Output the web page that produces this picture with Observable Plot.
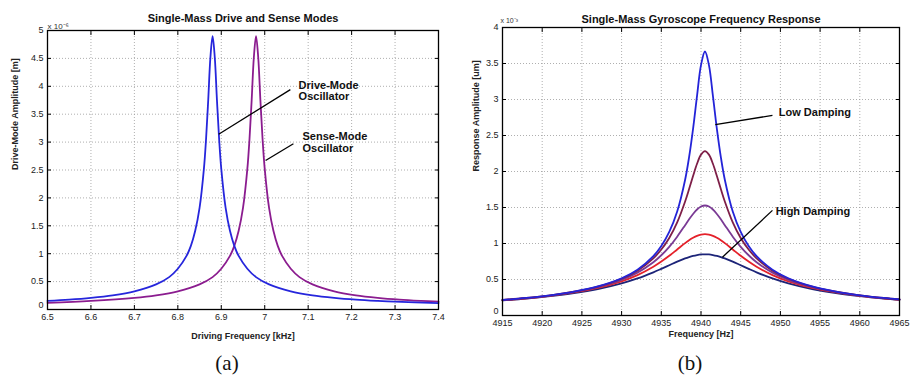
<!DOCTYPE html>
<html><head><meta charset="utf-8">
<script src="https://cdn.jsdelivr.net/npm/d3@7"></script>
<script src="https://cdn.jsdelivr.net/npm/@observablehq/plot@0.6"></script>
<style>
body{margin:0;background:#fff;}
#wrap{position:relative;width:910px;height:376px;overflow:hidden;background:#fff;}
.panel{position:absolute;top:0;}
.cap{position:absolute;top:352px;font-family:"Liberation Serif","DejaVu Serif",serif;font-size:21px;line-height:22px;width:60px;text-align:center;color:#111;}
</style></head><body>
<div id="wrap">
  <div id="a" class="panel" style="left:0"></div>
  <div id="b" class="panel" style="left:455px"></div>
  <div class="cap" style="left:197px">(a)</div>
  <div class="cap" style="left:660px">(b)</div>
</div>
<script>
// ---------- Panel (a) data ----------
const titleA = "Single-Mass Drive and Sense Modes";
const xLabelA = "Driving Frequency [kHz]";
const yLabelA = "Drive-Mode Amplitude [m]";
const yExpA = "x 10\u207B\u2076";
const xTicksA = [6.5, 6.6, 6.7, 6.8, 6.9, 7.0, 7.1, 7.2, 7.3, 7.4];
const yTicksA = [0, 0.5, 1, 1.5, 2, 2.5, 3, 3.5, 4, 4.5, 5];
const driveFreq = [6.5, 6.55, 6.6, 6.65, 6.7, 6.75, 6.78, 6.8, 6.82, 6.83, 6.84, 6.85, 6.86, 6.865, 6.87, 6.875, 6.88, 6.885, 6.89, 6.895, 6.9, 6.91, 6.92, 6.93, 6.94, 6.96, 6.98, 7.01, 7.06, 7.11, 7.16, 7.21, 7.26, 7.3, 7.4];
const driveAmp = [0.155, 0.178, 0.21, 0.255, 0.326, 0.45, 0.58, 0.73, 0.96, 1.14, 1.41, 1.82, 2.52, 3.06, 3.76, 4.52, 4.9, 4.52, 3.76, 3.06, 2.52, 1.82, 1.41, 1.14, 0.96, 0.73, 0.58, 0.45, 0.326, 0.255, 0.21, 0.178, 0.155, 0.14, 0.115];
const senseFreq = [6.5, 6.6, 6.7, 6.75, 6.8, 6.85, 6.88, 6.9, 6.92, 6.93, 6.94, 6.95, 6.96, 6.965, 6.97, 6.975, 6.98, 6.985, 6.99, 6.995, 7.0, 7.01, 7.02, 7.03, 7.04, 7.06, 7.08, 7.11, 7.16, 7.21, 7.26, 7.31, 7.36, 7.4];
const senseAmp = [0.12, 0.155, 0.21, 0.255, 0.326, 0.45, 0.58, 0.73, 0.96, 1.14, 1.41, 1.82, 2.52, 3.06, 3.76, 4.52, 4.9, 4.52, 3.76, 3.06, 2.52, 1.82, 1.41, 1.14, 0.96, 0.73, 0.58, 0.45, 0.326, 0.255, 0.21, 0.178, 0.155, 0.14];
const annotTextA = ["Drive-Mode\nOscillator", "Sense-Mode\nOscillator"];
const annotTextXA = [7.078, 7.087];
const annotTextYA = [3.92, 3.0];
const annotLineX1A = [7.059, 7.066];
const annotLineY1A = [3.94, 2.97];
const annotLineX2A = [6.894, 7.002];
const annotLineY2A = [3.14, 2.67];

// ---------- Panel (b) data ----------
const titleB = "Single-Mass Gyroscope Frequency Response";
const xLabelB = "Frequency [Hz]";
const yLabelB = "Response Amplitude [um]";
const yExpB = "x 10\u207B\u00B3";
const xTicksB = [4915, 4920, 4925, 4930, 4935, 4940, 4945, 4950, 4955, 4960, 4965];
const yTicksB = [0, 0.5, 1, 1.5, 2, 2.5, 3, 3.5, 4];
const gyroFreq = [4915, 4918, 4921, 4924, 4927, 4930, 4932, 4934, 4935, 4936, 4937, 4938, 4938.5, 4939, 4939.5, 4940, 4940.5, 4941, 4941.5, 4942, 4942.5, 4943, 4944, 4945, 4946, 4947, 4949, 4951, 4954, 4957, 4960, 4963, 4965];
const ampLowDamping = [0.215,0.244,0.281,0.332,0.405,0.518,0.637,0.824,0.965,1.160,1.444,1.886,2.2,2.593,3.051,3.478,3.667,3.478,3.051,2.593,2.2,1.886,1.444,1.160,0.965,0.824,0.637,0.518,0.405,0.332,0.281,0.244,0.224];
const ampDamping2 = [0.215,0.243,0.280,0.330,0.401,0.511,0.623,0.794,0.916,1.077,1.294,1.584,1.756,1.937,2.107,2.234,2.282,2.234,2.107,1.937,1.756,1.584,1.294,1.077,0.916,0.794,0.623,0.511,0.401,0.330,0.280,0.243,0.223];
const ampDamping3 = [0.214,0.241,0.277,0.326,0.394,0.496,0.596,0.740,0.837,0.954,1.095,1.255,1.336,1.410,1.472,1.513,1.528,1.513,1.472,1.410,1.336,1.255,1.095,0.954,0.837,0.740,0.596,0.496,0.394,0.326,0.277,0.241,0.222];
const ampDamping4 = [0.212,0.239,0.274,0.320,0.383,0.475,0.561,0.677,0.749,0.829,0.917,1.005,1.045,1.079,1.106,1.123,1.129,1.123,1.106,1.079,1.045,1.005,0.917,0.829,0.749,0.677,0.561,0.475,0.383,0.320,0.274,0.239,0.220];
const ampHighDamping = [0.209,0.235,0.268,0.310,0.367,0.446,0.515,0.600,0.648,0.698,0.748,0.793,0.812,0.828,0.840,0.848,0.850,0.848,0.840,0.828,0.812,0.793,0.748,0.698,0.648,0.600,0.515,0.446,0.367,0.310,0.268,0.235,0.217];
const seriesNamesB = ["High", "D4", "D3", "D2", "Low"];
const seriesColorsB = ["#1c2478", "#e4212a", "#7a3a94", "#7e1f48", "#2424d8"];
const annotTextB = ["Low Damping", "High Damping"];
const annotTextXB = [4949.8, 4949.4];
const annotTextYB = [2.82, 1.44];
const annotLineX1B = [4949.0, 4949.0];
const annotLineY1B = [2.78, 1.46];
const annotLineX2B = [4941.8, 4942.7];
const annotLineY2B = [2.65, 0.81];

const FONT = "'Liberation Sans', Arial, Helvetica, sans-serif";

function frameParts(xTicks, yTicks) {
  const yNonZero = yTicks.filter(v => v !== 0);
  return [
    Plot.gridX(xTicks, {stroke: "#9a9a9a", strokeOpacity: 1, strokeDasharray: "1,2", strokeWidth: 0.8}),
    Plot.gridY(yTicks, {stroke: "#9a9a9a", strokeOpacity: 1, strokeDasharray: "1,2", strokeWidth: 0.8}),
    Plot.axisX(xTicks, {anchor: "bottom", tickSize: -4, fill: "none", stroke: "black", label: null}),
    Plot.axisX(xTicks, {anchor: "top", tickSize: -4, fill: "none", stroke: "black", label: null}),
    Plot.axisY(yTicks, {anchor: "left", tickSize: -4, fill: "none", stroke: "black", label: null}),
    Plot.axisY(yTicks, {anchor: "right", tickSize: -4, fill: "none", stroke: "black", label: null}),
    Plot.axisX(xTicks, {anchor: "bottom", tickSize: 0, tickPadding: 4, fill: "#222", fontSize: 9, label: null, tickFormat: d => String(d)}),
    Plot.axisY(yNonZero, {anchor: "left", tickSize: 0, tickPadding: 4, fill: "#222", fontSize: 9, label: null, tickFormat: d => String(d)}),
    Plot.axisY([0], {anchor: "left", tickSize: 0, tickPadding: 4, dy: -4, fill: "#222", fontSize: 9, label: null, tickFormat: d => String(d)})
  ];
}

// ---------- Panel (a) ----------
const drive = driveFreq.map((f, i) => ({f, a: driveAmp[i]}));
const sense = senseFreq.map((f, i) => ({f, a: senseAmp[i]}));
const annA = annotTextA.map((t, i) => ({t, x: annotTextXA[i], y: annotTextYA[i], x1: annotLineX1A[i], y1: annotLineY1A[i], x2: annotLineX2A[i], y2: annotLineY2A[i]}));

const plotA = Plot.plot({
  width: 455, height: 345,
  marginLeft: 47, marginRight: 17, marginTop: 30, marginBottom: 36,
  style: {fontFamily: FONT, background: "white", overflow: "visible"},
  x: {domain: [6.5, 7.4]},
  y: {domain: [0, 5]},
  marks: [
    ...frameParts(xTicksA, yTicksA),
    Plot.line(sense, {x: "f", y: "a", stroke: "#8b1c8f", strokeWidth: 1.8, curve: "catmull-rom"}),
    Plot.line(drive, {x: "f", y: "a", stroke: "#2626dc", strokeWidth: 1.8, curve: "catmull-rom"}),
    Plot.link(annA, {x1: "x1", y1: "y1", x2: "x2", y2: "y2", stroke: "black", strokeWidth: 1.3}),
    Plot.text(annA, {x: "x", y: "y", text: "t", textAnchor: "start", lineAnchor: "middle", fontWeight: "bold", fontSize: 11, lineHeight: 1.05, fill: "#111"}),
    Plot.frame({stroke: "black", strokeWidth: 1.3}),
    Plot.text([titleA], {frameAnchor: "top", dy: -16, fontWeight: "bold", fontSize: 11, fill: "#111"}),
    Plot.text([yExpA], {frameAnchor: "top-left", textAnchor: "start", dy: -7, fontSize: 8, fill: "#333"}),
    Plot.text([xLabelA], {frameAnchor: "bottom", dy: 29, fontWeight: "bold", fontSize: 9, fill: "#222"}),
    Plot.text([yLabelA], {frameAnchor: "left", dx: -32, rotate: -90, fontWeight: "bold", fontSize: 9, fill: "#222"})
  ]
});
document.getElementById("a").append(plotA);

// ---------- Panel (b) ----------
const seriesB = [ampHighDamping, ampDamping4, ampDamping3, ampDamping2, ampLowDamping];
const gyro = [];
seriesB.forEach((arr, k) => arr.forEach((a, i) => gyro.push({f: gyroFreq[i], a, s: seriesNamesB[k]})));
const annB = annotTextB.map((t, i) => ({t, x: annotTextXB[i], y: annotTextYB[i], x1: annotLineX1B[i], y1: annotLineY1B[i], x2: annotLineX2B[i], y2: annotLineY2B[i]}));

const plotB = Plot.plot({
  width: 455, height: 350,
  marginLeft: 47, marginRight: 11, marginTop: 27, marginBottom: 35,
  style: {fontFamily: FONT, background: "white", overflow: "visible"},
  x: {domain: [4915, 4965]},
  y: {domain: [0, 4]},
  color: {domain: seriesNamesB, range: seriesColorsB},
  marks: [
    ...frameParts(xTicksB, yTicksB),
    Plot.line(gyro, {x: "f", y: "a", z: "s", stroke: "s", strokeWidth: 1.8, curve: "catmull-rom"}),
    Plot.link(annB, {x1: "x1", y1: "y1", x2: "x2", y2: "y2", stroke: "black", strokeWidth: 1.3}),
    Plot.text(annB, {x: "x", y: "y", text: "t", textAnchor: "start", lineAnchor: "middle", fontWeight: "bold", fontSize: 11, fill: "#111"}),
    Plot.frame({stroke: "black", strokeWidth: 1.3}),
    Plot.text([titleB], {frameAnchor: "top", dy: -12, fontWeight: "bold", fontSize: 11, fill: "#111"}),
    Plot.text([yExpB], {frameAnchor: "top-left", textAnchor: "start", dx: -2, dy: -9, fontSize: 7, fill: "#333"}),
    Plot.text([xLabelB], {frameAnchor: "bottom", dy: 21, fontWeight: "bold", fontSize: 9, fill: "#222"}),
    Plot.text([yLabelB], {frameAnchor: "left", dx: -26, rotate: -90, fontWeight: "bold", fontSize: 9, fill: "#222"})
  ]
});
document.getElementById("b").append(plotB);
</script>
</body></html>
